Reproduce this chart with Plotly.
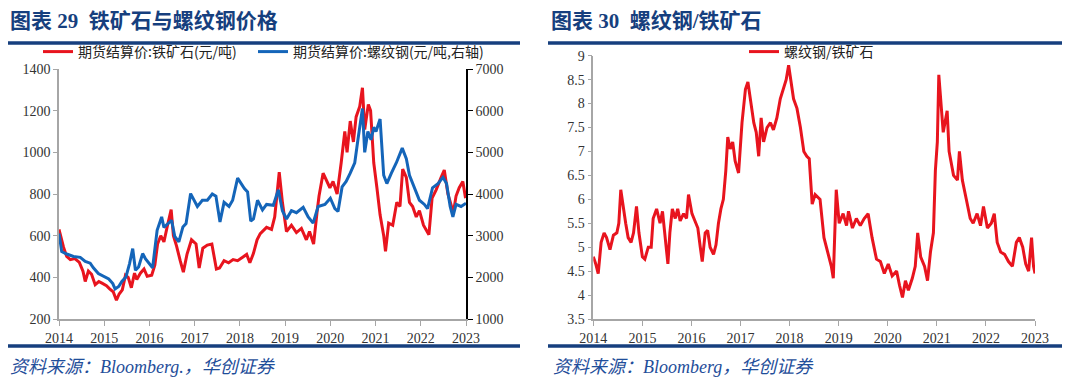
import plotly.graph_objects as go

W, H = 1080, 386
OFF = 8  # the page body adds an 8px offset; layout positions below are in screen pixels
def px(x): return (x - OFF) / W
def py(y): return 1 - (y - OFF) / H

# ---------------- data ----------------
years = list(range(2014, 2024))
left_ticks = [200, 400, 600, 800, 1000, 1200, 1400]
right_ticks = [1000, 2000, 3000, 4000, 5000, 6000, 7000]
ratio_ticks = [3.5, 4, 4.5, 5, 5.5, 6, 6.5, 7, 7.5, 8, 8.5, 9]
ratio_tick_text = ["3.5", "4", "4.5", "5", "5.5", "6", "6.5", "7", "7.5", "8", "8.5", "9"]

ore_name = "期货结算价:铁矿石(元/吨)"
rebar_name = "期货结算价:螺纹钢(元/吨,右轴)"
ratio_name = "螺纹钢/铁矿石"

ore_t = [2014.00, 2014.04, 2014.10, 2014.17, 2014.25, 2014.35, 2014.45, 2014.53, 2014.58, 2014.65,
         2014.72, 2014.80, 2014.88, 2014.95, 2015.05, 2015.12, 2015.20, 2015.27, 2015.33, 2015.40,
         2015.47, 2015.53, 2015.60, 2015.67, 2015.72, 2015.80, 2015.88, 2015.95, 2016.05, 2016.12,
         2016.18, 2016.25, 2016.32, 2016.40, 2016.48, 2016.53, 2016.60, 2016.68, 2016.75, 2016.83,
         2016.93, 2017.03, 2017.10, 2017.18, 2017.28, 2017.38, 2017.48, 2017.55, 2017.65, 2017.75,
         2017.85, 2017.95, 2018.05, 2018.15, 2018.22, 2018.30, 2018.38, 2018.45, 2018.59, 2018.70,
         2018.77, 2018.87, 2018.94, 2019.03, 2019.14, 2019.25, 2019.36, 2019.47, 2019.54, 2019.63,
         2019.71, 2019.75, 2019.84, 2019.91, 2019.99, 2020.06, 2020.15, 2020.24, 2020.32, 2020.37,
         2020.44, 2020.51, 2020.57, 2020.65, 2020.71, 2020.76, 2020.84, 2020.89, 2020.96, 2021.03,
         2021.10, 2021.18, 2021.22, 2021.29, 2021.38, 2021.47, 2021.54, 2021.60, 2021.68, 2021.75,
         2021.82, 2021.90, 2021.97, 2022.06, 2022.18, 2022.25, 2022.34, 2022.45, 2022.52, 2022.60,
         2022.67, 2022.72, 2022.78, 2022.85, 2022.93, 2022.99]
ore_v = [630, 590, 545, 500, 485, 490, 472, 430, 380, 430,
         415, 365, 380, 372, 360, 345, 330, 290, 320, 340,
         410, 400, 350, 420, 390, 420, 440, 405, 410, 460,
         560, 600, 570, 650, 725, 600, 550, 480, 425, 510,
         580, 560, 445, 540, 555, 560, 440, 445, 480, 470,
         485, 480, 495, 510, 470, 515, 580, 610, 640, 630,
         690, 905, 760, 620, 650, 615, 635, 580, 620, 560,
         720, 790, 900, 870, 830, 860, 800, 950, 1100, 1000,
         1150, 1050, 1170, 1220, 1310, 1110, 1230, 1200, 950, 830,
         700, 600, 525, 660, 650, 760, 740, 920, 880, 760,
         740, 690, 720, 650, 605, 780, 820, 880, 915, 800,
         740, 710, 790, 830, 860, 780]

rebar_t = [2014.00, 2014.06, 2014.17, 2014.32, 2014.47, 2014.58, 2014.69, 2014.76, 2014.87, 2014.99,
           2015.10, 2015.19, 2015.24, 2015.32, 2015.39, 2015.48, 2015.56, 2015.63, 2015.69, 2015.76,
           2015.85, 2015.91, 2015.99, 2016.07, 2016.17, 2016.27, 2016.32, 2016.41, 2016.49, 2016.56,
           2016.65, 2016.74, 2016.81, 2016.91, 2016.99, 2017.06, 2017.17, 2017.28, 2017.39, 2017.47,
           2017.56, 2017.65, 2017.76, 2017.84, 2017.95, 2018.02, 2018.10, 2018.17, 2018.24, 2018.30,
           2018.39, 2018.50, 2018.59, 2018.74, 2018.85, 2018.94, 2019.03, 2019.14, 2019.25, 2019.40,
           2019.51, 2019.62, 2019.73, 2019.88, 2020.00, 2020.10, 2020.17, 2020.26, 2020.35, 2020.44,
           2020.54, 2020.61, 2020.71, 2020.76, 2020.83, 2020.90, 2020.96, 2021.01, 2021.10, 2021.18,
           2021.25, 2021.35, 2021.46, 2021.59, 2021.68, 2021.75, 2021.86, 2021.97, 2022.08, 2022.15,
           2022.26, 2022.38, 2022.49, 2022.57, 2022.65, 2022.71, 2022.78, 2022.89, 2023.00]
rebar_v = [3050, 2620, 2560, 2500, 2480, 2380, 2340, 2230, 2090, 2030,
           1960, 1850, 1720, 1780, 1900, 2010, 2330, 2690, 2170, 2250,
           2570, 2450, 2330, 2230, 3130, 3450, 3200, 3290, 3370, 2980,
           2850, 3210, 3290, 4010, 3850, 3700, 3850, 3850, 4000, 3950,
           3330, 3800, 3700, 3850, 4380, 4250, 4130, 4050, 3350, 3400,
           3850, 3620, 3750, 3730, 4100, 3600, 3400, 3600, 3550, 3680,
           3450, 3300, 3700, 3750, 3900, 3650, 3580, 4170, 4300, 4500,
           4750, 5300, 6050, 5000, 5500, 5300, 5600, 5500, 5800, 4450,
           4250, 4500, 4750, 5100, 4850, 4450, 4150, 3850, 3750, 3650,
           4150, 4250, 4400, 4250, 3700, 3450, 3750, 3700, 3780]

ratio_t = [2014.00, 2014.05, 2014.10, 2014.16, 2014.22, 2014.27, 2014.34, 2014.41, 2014.48, 2014.52,
           2014.56, 2014.61, 2014.66, 2014.71, 2014.77, 2014.82, 2014.88, 2014.93, 2015.00, 2015.05,
           2015.12, 2015.18, 2015.22, 2015.29, 2015.36, 2015.41, 2015.46, 2015.52, 2015.56, 2015.61,
           2015.67, 2015.72, 2015.77, 2015.84, 2015.90, 2015.94, 2016.01, 2016.07, 2016.13, 2016.18,
           2016.22, 2016.28, 2016.33, 2016.38, 2016.45, 2016.50, 2016.55, 2016.60, 2016.65, 2016.70,
           2016.74, 2016.79, 2016.84, 2016.89, 2016.96, 2017.03, 2017.10, 2017.15, 2017.20, 2017.27,
           2017.32, 2017.37, 2017.42, 2017.47, 2017.54, 2017.61, 2017.67, 2017.74, 2017.81, 2017.88,
           2017.93, 2017.98, 2018.03, 2018.08, 2018.15, 2018.22, 2018.29, 2018.35, 2018.40, 2018.46,
           2018.52, 2018.62, 2018.70, 2018.78, 2018.85, 2018.89, 2018.95, 2019.01, 2019.09, 2019.16,
           2019.20, 2019.28, 2019.36, 2019.44, 2019.52, 2019.60, 2019.68, 2019.77, 2019.85, 2019.93,
           2020.01, 2020.09, 2020.18, 2020.24, 2020.30, 2020.36, 2020.42, 2020.50, 2020.56, 2020.61,
           2020.67, 2020.75, 2020.81, 2020.87, 2020.93, 2020.97, 2021.01, 2021.04, 2021.09, 2021.13,
           2021.21, 2021.25, 2021.34, 2021.42, 2021.46, 2021.52, 2021.60, 2021.68, 2021.74, 2021.82,
           2021.89, 2021.95, 2022.03, 2022.11, 2022.17, 2022.23, 2022.30, 2022.38, 2022.46, 2022.54,
           2022.62, 2022.68, 2022.75, 2022.81, 2022.87, 2022.93, 2022.97, 2023.00]
ratio_v = [4.8, 4.65, 4.45, 5.1, 5.3, 5.2, 4.95, 5.25, 5.3, 5.5,
           6.2, 5.8, 5.5, 5.2, 5.1, 5.3, 5.85, 5.3, 4.8, 4.75,
           5.0, 5.0, 5.6, 5.8, 5.5, 5.75, 5.2, 4.65, 5.3, 5.8,
           5.6, 5.8, 5.55, 5.7, 5.6, 6.1, 5.7, 5.55, 5.4, 5.0,
           4.7, 5.3, 5.35, 5.0, 4.85, 5.05, 5.5, 5.8, 6.0, 6.6,
           7.3, 7.05, 7.2, 6.8, 6.55, 7.6, 8.3, 8.45, 8.1, 7.6,
           7.4, 6.9, 7.7, 7.2, 7.5, 7.6, 7.45, 7.7, 8.1, 8.35,
           8.5, 8.8, 8.4, 8.1, 7.9, 7.5, 7.0, 6.9, 6.85, 5.9,
           6.1, 6.0, 5.2, 4.9, 4.6, 4.35, 6.2, 5.5, 5.7, 5.45,
           5.75, 5.4, 5.6, 5.45, 5.6, 5.7, 5.2, 4.75, 4.7, 4.45,
           4.65, 4.4, 4.5, 4.2, 3.95, 4.3, 4.1, 4.35, 4.6, 5.3,
           4.8, 4.6, 4.3, 4.9, 5.3, 6.6, 7.2, 8.6, 7.9, 7.4,
           7.85, 7.0, 6.5, 6.4, 7.0, 6.4, 6.0, 5.6, 5.5, 5.7,
           5.45, 5.85, 5.4, 5.5, 5.7, 5.1, 4.9, 4.85, 4.7, 4.6,
           5.1, 5.2, 5.0, 4.65, 4.5, 5.2, 4.6, 4.45]

# ---------------- styles ----------------
RED = "#E8141E"
BLUE = "#1465B9"
NAVY = "#163F7E"
SERIF = "Liberation Serif, Times New Roman, Noto Sans CJK SC, serif"
CJK = "Noto Sans CJK SC, sans-serif"
TICKFONT = dict(family=SERIF, size=14, color="#333333")

fig = go.Figure()
fig.add_trace(go.Scatter(x=ore_t, y=ore_v, name=ore_name, mode="lines",
                         line=dict(color=RED, width=3), xaxis="x", yaxis="y", legend="legend"))
fig.add_trace(go.Scatter(x=rebar_t, y=rebar_v, name=rebar_name, mode="lines",
                         line=dict(color=BLUE, width=3), xaxis="x", yaxis="y2", legend="legend2"))
fig.add_trace(go.Scatter(x=ratio_t, y=ratio_v, name=ratio_name, mode="lines",
                         line=dict(color=RED, width=3), xaxis="x3", yaxis="y3", legend="legend3"))

axis_common = dict(showgrid=False, zeroline=False, showline=True, ticks="outside",
                   tickfont=TICKFONT, fixedrange=True, automargin=False)

legend_font = dict(family=CJK, size=14, color="#222222")

fig.update_layout(
    width=W, height=H, margin=dict(l=0, r=0, t=0, b=0, autoexpand=False),
    paper_bgcolor="white", plot_bgcolor="white",
    xaxis=dict(domain=[px(59), px(466)], range=[2014, 2023], tickvals=years,
               linecolor="#A6A6A6", linewidth=1.5, tickcolor="#A6A6A6", ticklen=5, anchor="y",
               **axis_common),
    yaxis=dict(domain=[py(319), py(69)], range=[200, 1400], tickvals=left_ticks,
               linecolor="#A6A6A6", linewidth=1.5, tickcolor="#A6A6A6", ticklen=4, anchor="x",
               **axis_common),
    yaxis2=dict(overlaying="y", side="right", range=[1000, 7000], tickvals=right_ticks,
                linecolor="#000000", linewidth=1.5, tickcolor="#000000", ticklen=5, anchor="x",
                **axis_common),
    xaxis3=dict(domain=[px(593.3), px(1035)], range=[2014, 2023], tickvals=years,
                linecolor="#A6A6A6", linewidth=1.5, tickcolor="#A6A6A6", ticklen=5, anchor="y3",
                **axis_common),
    yaxis3=dict(domain=[py(319), py(55.7)], range=[3.5, 9], tickvals=ratio_ticks,
                ticktext=ratio_tick_text,
                linecolor="#A6A6A6", linewidth=1.5, tickcolor="#A6A6A6", ticklen=4, anchor="x3",
                **axis_common),
    legend=dict(x=px(38), y=py(52), xanchor="left", yanchor="middle", orientation="h",
                font=legend_font, bgcolor="rgba(0,0,0,0)"),
    legend2=dict(x=px(253), y=py(52), xanchor="left", yanchor="middle", orientation="h",
                 font=legend_font, bgcolor="rgba(0,0,0,0)"),
    legend3=dict(x=px(744), y=py(52), xanchor="left", yanchor="middle", orientation="h",
                 font=legend_font, bgcolor="rgba(0,0,0,0)"),
    showlegend=True,
)

# titles
for x0, txt in [(8, "图表 29\u2002铁矿石与螺纹钢价格"), (549, "图表 30\u2002螺纹钢/铁矿石")]:
    fig.add_annotation(xref="paper", yref="paper", x=px(x0), y=py(21), xanchor="left",
                       yanchor="middle", showarrow=False, text="<b>" + txt + "</b>",
                       font=dict(family="Liberation Serif, Noto Sans CJK SC", size=21, color=NAVY))
# sources
for x0, txt in [(8, "资料来源：Bloomberg.，华创证券"), (551, "资料来源：Bloomberg，华创证券")]:
    fig.add_annotation(xref="paper", yref="paper", x=px(x0), y=py(367), xanchor="left",
                       yanchor="middle", showarrow=False, text="<i>" + txt + "</i>",
                       font=dict(family="Liberation Serif, Noto Sans CJK SC", size=18, color="#1F4E9A"))
# header / footer rules
for (a, b) in [(8, 520), (548, 1062)]:
    for yy in (43, 346):
        fig.add_shape(type="line", xref="paper", yref="paper", x0=px(a), x1=px(b),
                      y0=py(yy), y1=py(yy), line=dict(color=NAVY, width=3.5))

fig.write_html("out.html")
